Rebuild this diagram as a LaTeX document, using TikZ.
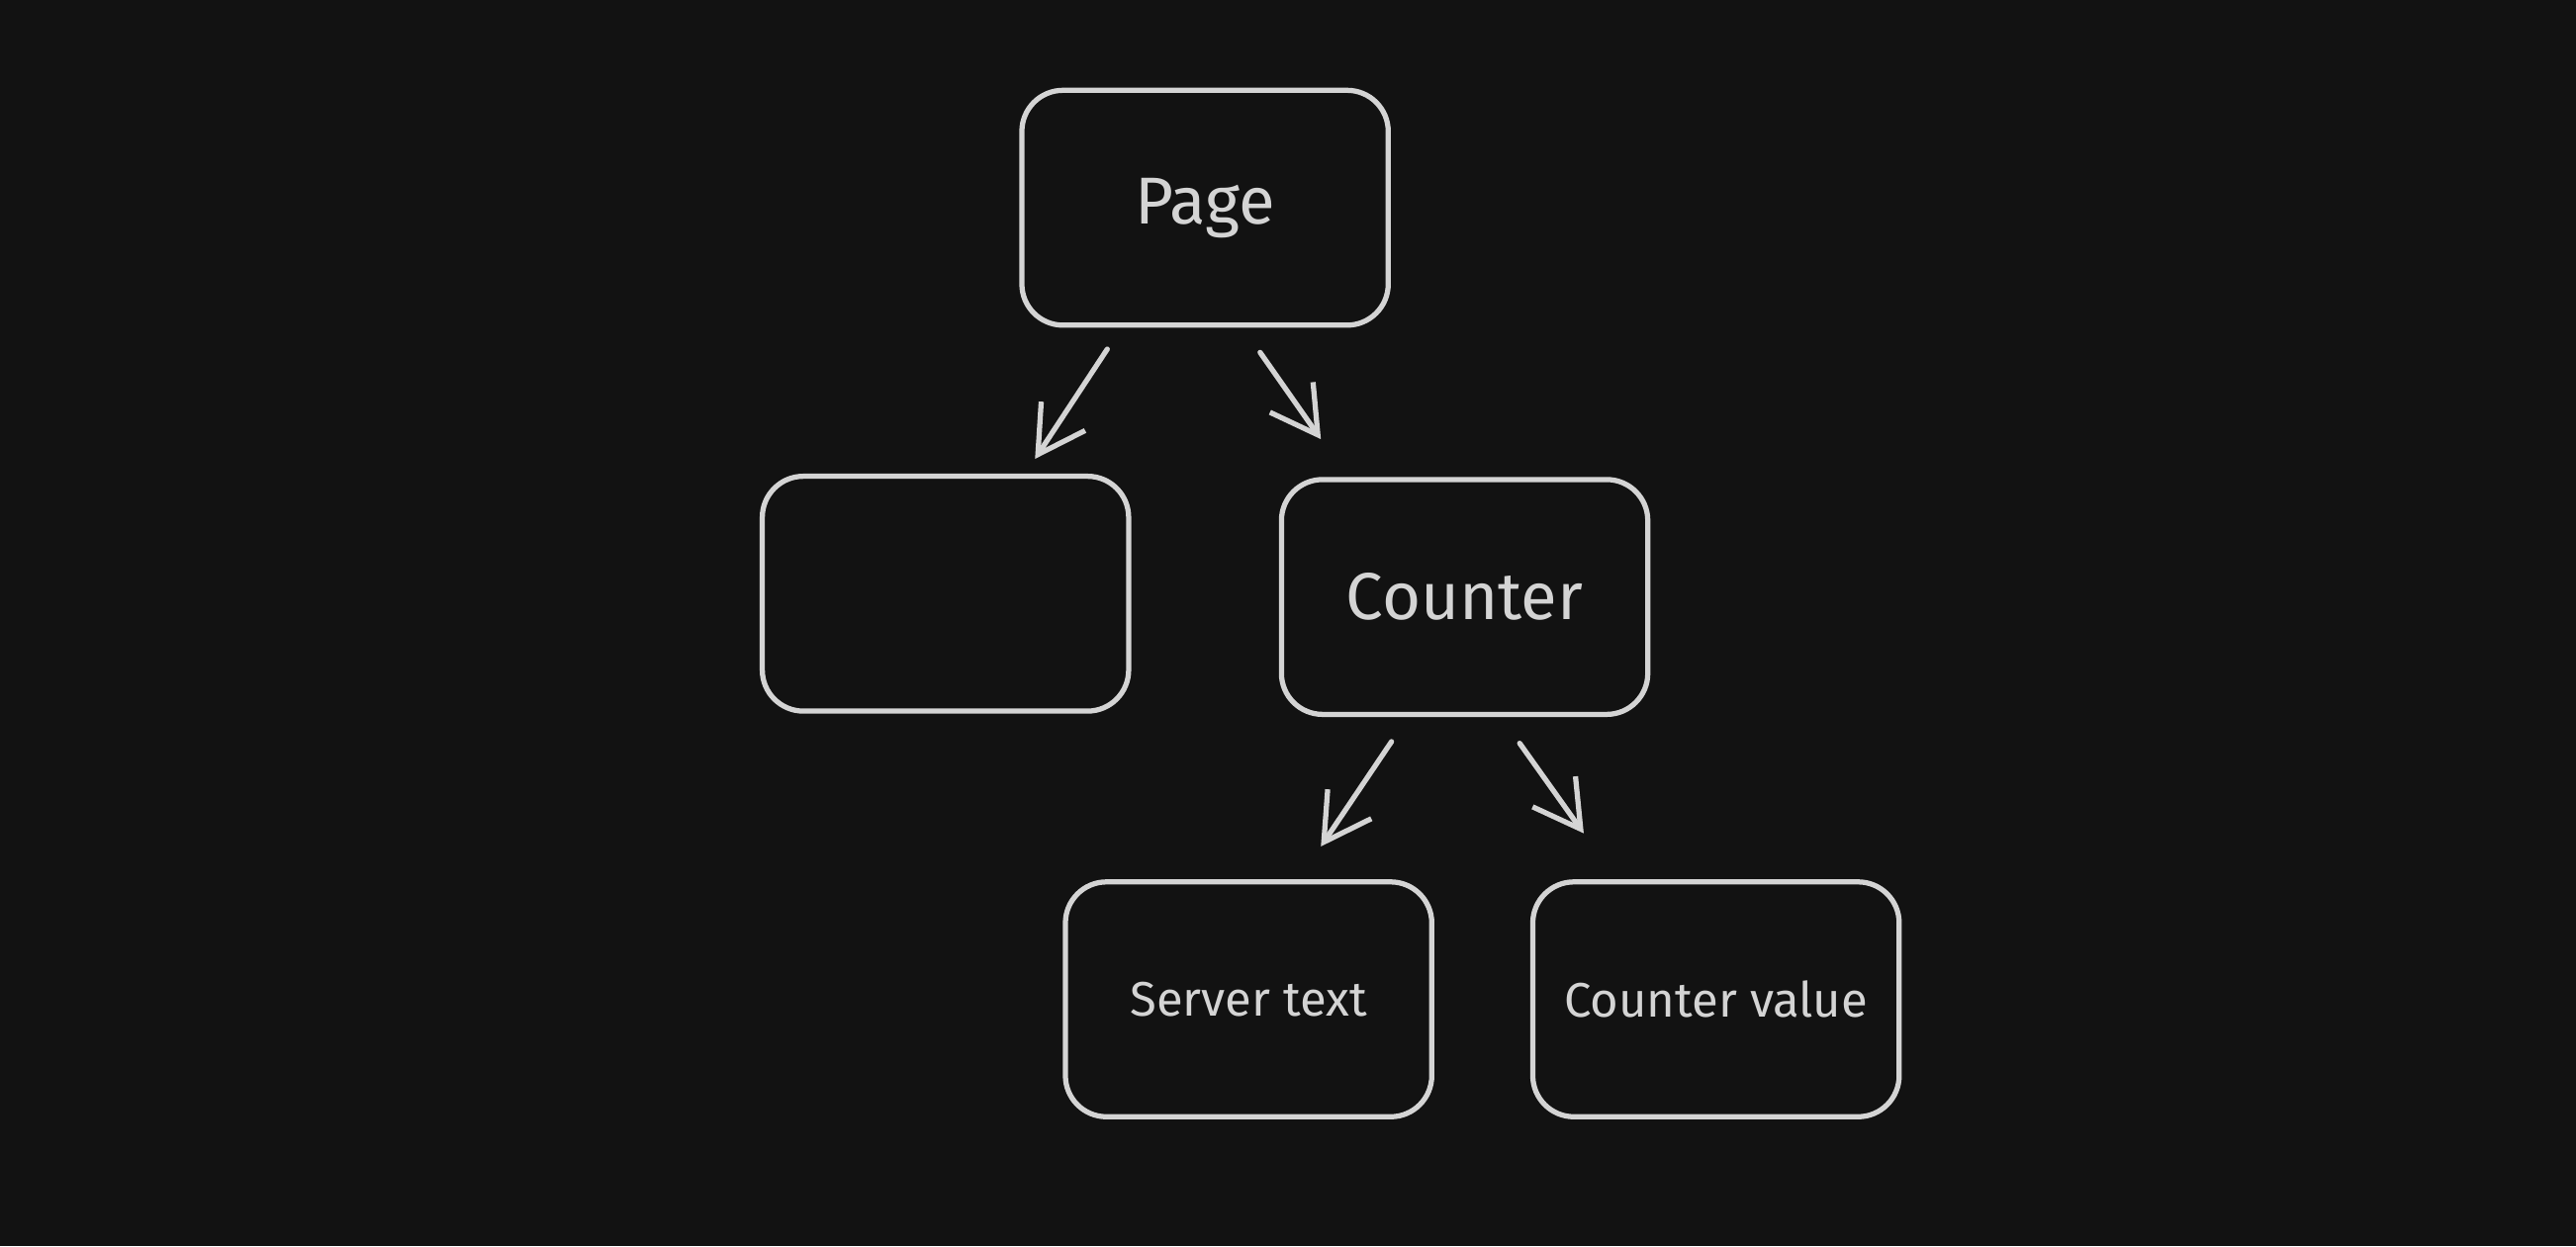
\documentclass[tikz,border=0pt]{standalone}
\usepackage{fontspec}
\setmainfont{Fira Sans}
\usetikzlibrary{arrows.meta}
\definecolor{bgdark}{HTML}{121212}
\definecolor{chalk}{HTML}{D4D4D4}
\tikzset{
  box/.style={draw=chalk, line width=0.9pt, rounded corners=0.25cm,
    minimum width=2.23cm, minimum height=1.43cm, inner sep=0pt, text=chalk},
  bigtext/.style={font=\fontsize{11.5}{13}\selectfont},
  smalltext/.style={font=\fontsize{8.4}{10}\selectfont},
  arr/.style={draw=chalk, line width=0.9pt, line cap=round,
    -{Straight Barb[length=0.28cm, width=0.32cm, line width=0.9pt]}}
}
\begin{document}
\begin{tikzpicture}
\fill[bgdark] (0,0) rectangle (15.68,7.59);
\useasboundingbox (0,0) rectangle (15.68,7.59);
% boxes
\node[box, bigtext] (page) at (7.335,6.325) {Page};
\node[box] (blank) at (5.755,3.975) {};
\node[box, bigtext] (counter) at (8.915,3.955) {Counter};
\node[box, smalltext] (server) at (7.60,1.505) {Server text};
\node[box, smalltext] (value) at (10.445,1.505) {Counter value};
% arrows
\draw[arr] ([shift={(-0.595,-0.13)}]page.south) -- ([shift={(0.545,0.09)}]blank.north);
\draw[arr] ([shift={(0.335,-0.15)}]page.south) -- ([shift={(-0.875,0.23)}]counter.north);
\draw[arr] ([shift={(-0.445,-0.15)}]counter.south) -- ([shift={(0.44,0.20)}]server.north);
\draw[arr] ([shift={(0.335,-0.16)}]counter.south) -- ([shift={(-0.805,0.28)}]value.north);
\end{tikzpicture}
\end{document}
